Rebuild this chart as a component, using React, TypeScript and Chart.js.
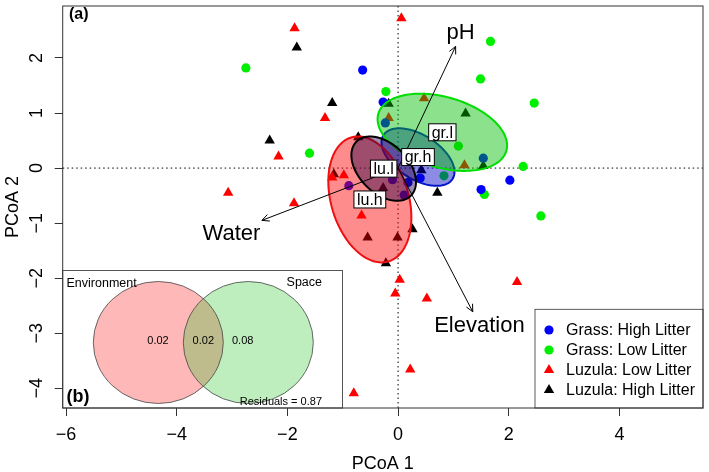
import React, { useEffect, useRef } from "react";
import { Chart, registerables } from "chart.js";

Chart.register(...registerables);

// ---------- data ----------
const groupLabels = ["Grass: High Litter", "Grass: Low Litter", "Luzula: Low Litter", "Luzula: High Litter"];
const groupColors = ["#0000FF", "#00EE00", "#FF0000", "#000000"];
const groupShapes = ["circle", "circle", "triangle", "triangle"];

const grassHighX = [-0.64, -0.27, -0.23, 1.54, 2.02, 1.5, 0.4, 0.18, 0.11, -0.1, -0.89];
const grassHighY = [1.78, 1.2, 0.82, 0.18, -0.22, -0.39, -0.18, -0.26, -0.49, -0.21, -0.32];

const grassLowX = [-2.75, -1.6, -0.22, 1.67, 1.49, 2.46, 1.09, 2.26, 1.56, 2.58, 0.83];
const grassLowY = [1.82, 0.27, 1.39, 2.3, 1.62, 1.18, 0.4, 0.03, -0.48, -0.87, -0.14];

const luzulaLowX = [0.06, -1.87, -1.32, -2.16, -3.07, -1.88, -1.19, -0.98, -0.17, 0.47, 1.2, -0.66, 0.03, -0.05, 0.52, 0.22, -0.8, 2.15];
const luzulaLowY = [2.72, 2.54, 0.91, 0.21, -0.45, -0.64, -0.17, -0.13, 0.91, 1.27, 0.05, -0.86, -2.03, -2.28, -2.37, -3.66, -4.09, -2.07];

const luzulaHighX = [-1.83, -1.19, -2.32, -0.72, -0.17, 1.22, 1.54, 0.42, 0.71, -1.16, -0.27, -0.55, -0.01, 0.26, -0.22];
const luzulaHighY = [2.19, 1.18, 0.5, 0.56, 1.17, 0.99, 0.04, -0.04, -0.45, -0.11, -0.36, -1.26, -1.26, -1.11, -1.73];

// ellipses (order of drawing: gr.h, gr.l, lu.h, lu.l)
const ellipseNames = ["gr.h", "gr.l", "lu.h", "lu.l"];
const ellipseCX = [0.36, 0.8, -0.51, -0.26];
const ellipseCY = [0.2, 0.65, -0.57, -0.01];
const ellipseA = [0.74, 1.205, 1.175, 0.695];
const ellipseB = [0.4, 0.64, 0.7, 0.445];
const ellipseAngle = [-32.7, -16.3, -73.4, -45];
const ellipseFill = ["rgba(0,0,200,0.45)", "rgba(0,190,0,0.45)", "rgba(255,0,0,0.45)", "rgba(40,0,70,0.45)"];
const ellipseStroke = ["#0018C8", "#00DD00", "#EE1010", "#000000"];

// environmental vectors
const envNames = ["pH", "Water", "Elevation"];
const envX = [1.04, -2.46, 1.35];
const envY = [2.21, -0.95, -2.61];
const envLabelX = [1.13, -3.01, 1.47];
const envLabelY = [2.45, -1.19, -2.87];

// axis ticks
const xTicks = [-6, -4, -2, 0, 2, 4];
const yTicks = [-4, -3, -2, -1, 0, 1, 2];

// variation partitioning (inset b)
const vennSets = ["Environment", "Space"];
const vennValues = ["0.02", "0.02", "0.08"];
const vennResiduals = "0.87";

const FONT = "'Liberation Sans', Arimo, Arial, sans-serif";
const minus = (v: number) => String(v).replace("-", "\u2212");

function pts(xs: number[], ys: number[]) {
  return xs.map((x, i) => ({ x, y: ys[i] }));
}

function drawMarker(ctx: CanvasRenderingContext2D, shape: string, x: number, y: number, color: string) {
  ctx.fillStyle = color;
  ctx.beginPath();
  if (shape === "circle") {
    ctx.arc(x, y, 4.6, 0, Math.PI * 2);
  } else {
    const r = 6;
    for (let k = 0; k < 3; k++) {
      const a = (k * 2 * Math.PI) / 3;
      const px = x + Math.sin(a) * r;
      const py = y - Math.cos(a) * r;
      if (k === 0) ctx.moveTo(px, py);
      else ctx.lineTo(px, py);
    }
    ctx.closePath();
  }
  ctx.fill();
}

const overlay = {
  id: "overlay",
  beforeDatasetsDraw(chart: any) {
    const { ctx, chartArea: ca, scales } = chart;
    const xs = scales.x, ys = scales.y;
    ctx.save();
    ctx.strokeStyle = "#000";
    ctx.lineWidth = 1;
    ctx.setLineDash([1.5, 3]);
    const x0 = xs.getPixelForValue(0);
    const y0 = ys.getPixelForValue(0);
    ctx.beginPath();
    ctx.moveTo(x0, ca.top);
    ctx.lineTo(x0, ca.bottom);
    ctx.moveTo(ca.left, y0);
    ctx.lineTo(ca.right, y0);
    ctx.stroke();
    ctx.restore();
  },
  afterDatasetsDraw(chart: any) {
    const { ctx, chartArea: ca, scales } = chart;
    const xs = scales.x, ys = scales.y;
    const px = (v: number) => xs.getPixelForValue(v);
    const py = (v: number) => ys.getPixelForValue(v);
    ctx.save();

    // ellipses
    for (let e = 0; e < ellipseNames.length; e++) {
      const th = (ellipseAngle[e] * Math.PI) / 180;
      ctx.beginPath();
      const N = 160;
      for (let i = 0; i <= N; i++) {
        const t = (i / N) * Math.PI * 2;
        const dx = ellipseA[e] * Math.cos(t);
        const dy = ellipseB[e] * Math.sin(t);
        const ex = ellipseCX[e] + dx * Math.cos(th) - dy * Math.sin(th);
        const ey = ellipseCY[e] + dx * Math.sin(th) + dy * Math.cos(th);
        if (i === 0) ctx.moveTo(px(ex), py(ey));
        else ctx.lineTo(px(ex), py(ey));
      }
      ctx.closePath();
      ctx.fillStyle = ellipseFill[e];
      ctx.fill();
      ctx.strokeStyle = ellipseStroke[e];
      ctx.lineWidth = 2;
      ctx.stroke();
    }

    // arrows
    ctx.strokeStyle = "#000";
    ctx.lineWidth = 1;
    for (let i = 0; i < envNames.length; i++) {
      const sx = px(0), sy = py(0);
      const tx = px(envX[i]), ty = py(envY[i]);
      ctx.beginPath();
      ctx.moveTo(sx, sy);
      ctx.lineTo(tx, ty);
      const ang = Math.atan2(ty - sy, tx - sx);
      const hl = 8;
      for (const s of [-1, 1]) {
        ctx.moveTo(tx, ty);
        ctx.lineTo(tx - hl * Math.cos(ang + s * 0.45), ty - hl * Math.sin(ang + s * 0.45));
      }
      ctx.stroke();
    }
    ctx.fillStyle = "#000";
    ctx.font = `22px ${FONT}`;
    ctx.textAlign = "center";
    ctx.textBaseline = "middle";
    for (let i = 0; i < envNames.length; i++) {
      ctx.fillText(envNames[i], px(envLabelX[i]), py(envLabelY[i]));
    }

    // ellipse labels
    ctx.font = `16px ${FONT}`;
    for (let e = 0; e < ellipseNames.length; e++) {
      const cx = px(ellipseCX[e]), cy = py(ellipseCY[e]);
      const w = ctx.measureText(ellipseNames[e]).width + 6;
      const h = 17;
      ctx.fillStyle = "#fff";
      ctx.fillRect(cx - w / 2, cy - h / 2, w, h);
      ctx.strokeStyle = "#000";
      ctx.lineWidth = 1;
      ctx.strokeRect(cx - w / 2, cy - h / 2, w, h);
      ctx.fillStyle = "#000";
      ctx.fillText(ellipseNames[e], cx, cy + 1);
    }

    // inset (b): Venn diagram
    const bx0 = ca.left, by0 = 270.5, bx1 = 342.5, by1 = ca.bottom;
    ctx.fillStyle = "#fff";
    ctx.fillRect(bx0, by0, bx1 - bx0, by1 - by0);
    ctx.strokeStyle = "#555";
    ctx.lineWidth = 1;
    ctx.strokeRect(bx0, by0, bx1 - bx0, by1 - by0);
    const c1x = 158.3, c2x = 248.3, ccy = 342.5, rx = 65, ry = 61;
    ctx.fillStyle = "rgba(255,0,0,0.28)";
    ctx.beginPath();
    ctx.ellipse(c1x, ccy, rx, ry, 0, 0, Math.PI * 2);
    ctx.fill();
    ctx.fillStyle = "rgba(40,200,40,0.3)";
    ctx.beginPath();
    ctx.ellipse(c2x, ccy, rx, ry, 0, 0, Math.PI * 2);
    ctx.fill();
    ctx.strokeStyle = "#444";
    ctx.lineWidth = 0.8;
    ctx.beginPath();
    ctx.ellipse(c1x, ccy, rx, ry, 0, 0, Math.PI * 2);
    ctx.stroke();
    ctx.beginPath();
    ctx.ellipse(c2x, ccy, rx, ry, 0, 0, Math.PI * 2);
    ctx.stroke();
    ctx.fillStyle = "#000";
    ctx.font = `12.5px ${FONT}`;
    ctx.textAlign = "left";
    ctx.fillText(vennSets[0], 66.5, 284);
    ctx.textAlign = "right";
    ctx.fillText(vennSets[1], 322, 283);
    ctx.font = `11px ${FONT}`;
    ctx.textAlign = "center";
    ctx.fillText(vennValues[0], 158, 341);
    ctx.fillText(vennValues[1], 203.3, 341);
    ctx.fillText(vennValues[2], 242.7, 341);
    ctx.textAlign = "right";
    ctx.fillText(`Residuals = ${vennResiduals}`, 322, 402);
    ctx.textAlign = "left";
    ctx.font = `bold 18px ${FONT}`;
    ctx.fillText("(b)", 66.5, 397);
    ctx.font = `bold 16px ${FONT}`;
    ctx.fillText("(a)", 69, 15);

    // legend
    const lx0 = 535, ly0 = 309.3;
    ctx.fillStyle = "#fff";
    ctx.fillRect(lx0, ly0, ca.right - lx0, ca.bottom - ly0);
    ctx.strokeStyle = "#333";
    ctx.strokeRect(lx0, ly0, ca.right - lx0, ca.bottom - ly0);
    ctx.font = `16px ${FONT}`;
    ctx.textAlign = "left";
    for (let i = 0; i < groupLabels.length; i++) {
      const ry2 = 330 + i * 20;
      drawMarker(ctx, groupShapes[i], 549, ry2, groupColors[i]);
      ctx.fillStyle = "#000";
      ctx.fillText(groupLabels[i], 566, ry2 + 0.5);
    }

    // plot box
    ctx.strokeStyle = "#333";
    ctx.lineWidth = 1;
    ctx.strokeRect(ca.left, ca.top, ca.right - ca.left, ca.bottom - ca.top);

    // y tick labels (rotated, R style)
    ctx.fillStyle = "#000";
    ctx.font = `18px ${FONT}`;
    ctx.textAlign = "center";
    ctx.textBaseline = "middle";
    for (const t of ys.ticks) {
      ctx.save();
      ctx.translate(37, py(t.value));
      ctx.rotate(-Math.PI / 2);
      ctx.fillText(minus(t.value), 0, 0);
      ctx.restore();
    }
    // axis titles
    ctx.fillText("PCoA 1", (ca.left + ca.right) / 2, 464);
    ctx.save();
    ctx.translate(13, (ca.top + ca.bottom) / 2);
    ctx.rotate(-Math.PI / 2);
    ctx.fillText("PCoA 2", 0, 0);
    ctx.restore();

    ctx.restore();
  },
};

export default function App() {
  const ref = useRef<HTMLCanvasElement | null>(null);
  useEffect(() => {
    if (!ref.current) return;
    const series = [
      pts(grassHighX, grassHighY),
      pts(grassLowX, grassLowY),
      pts(luzulaLowX, luzulaLowY),
      pts(luzulaHighX, luzulaHighY),
    ];
    const chart = new Chart(ref.current, {
      type: "scatter",
      data: {
        datasets: series.map((d, i) => ({
          label: groupLabels[i],
          data: d,
          pointStyle: groupShapes[i] as any,
          pointRadius: groupShapes[i] === "circle" ? 4.6 : 6,
          backgroundColor: groupColors[i],
          borderColor: groupColors[i],
          borderWidth: 0,
        })),
      },
      options: {
        animation: false,
        responsive: false,
        events: [],
        layout: { padding: { top: 2, right: 2.5, left: 0, bottom: 0 } },
        plugins: { legend: { display: false }, tooltip: { enabled: false } },
        scales: {
          x: {
            type: "linear",
            min: -6.06,
            max: 5.51,
            afterBuildTicks: (s: any) => {
              s.ticks = xTicks.map((v) => ({ value: v }));
            },
            afterFit: (s: any) => {
              s.height = 64;
            },
            ticks: {
              color: "#000",
              font: { size: 18, family: FONT },
              padding: 8,
              maxRotation: 0,
              minRotation: 0,
              callback: (v: any) => minus(Number(v)),
            },
            grid: { display: true, drawOnChartArea: false, drawTicks: true, tickLength: 8, color: "#333" },
            border: { display: false },
          },
          y: {
            type: "linear",
            min: -4.358,
            max: 2.944,
            afterBuildTicks: (s: any) => {
              s.ticks = yTicks.map((v) => ({ value: v }));
            },
            afterFit: (s: any) => {
              s.width = 62.7;
            },
            ticks: { display: false },
            grid: { display: true, drawOnChartArea: false, drawTicks: true, tickLength: 8, color: "#333" },
            border: { display: false },
          },
        },
      },
      plugins: [overlay],
    });
    return () => chart.destroy();
  }, []);
  return (
    <div style={{ position: "absolute", left: 0, top: 0, width: 709, height: 472, background: "#fff" }}>
      <canvas ref={ref} width={709} height={472} style={{ width: 709, height: 472 }} />
    </div>
  );
}
